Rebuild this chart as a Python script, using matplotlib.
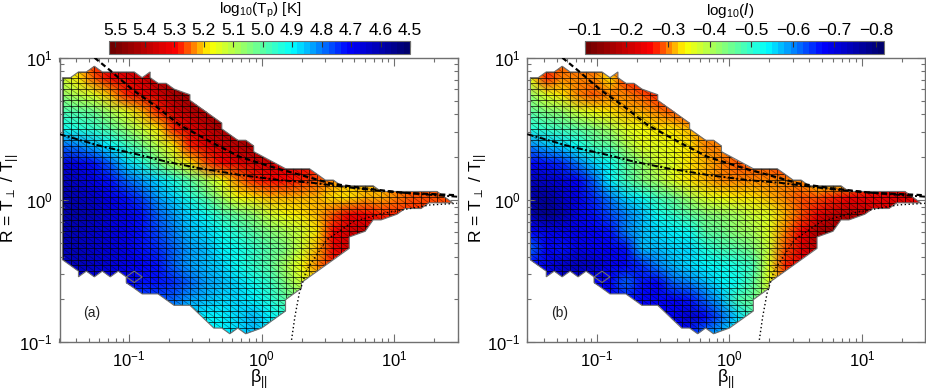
import numpy as np
import matplotlib
matplotlib.use('Agg')
from matplotlib import pyplot as plt
from matplotlib.collections import LineCollection
from matplotlib.colors import LinearSegmentedColormap
from matplotlib.patches import PathPatch
from matplotlib.path import Path
from matplotlib.ticker import LogLocator, NullFormatter

plt.rcParams['font.family'] = ['Liberation Sans', 'DejaVu Sans']
plt.rcParams['mathtext.default'] = 'regular'

# log10 beta / log10 R of the coarse table nodes
log_beta_nodes = [-1.50, -1.38, -1.26, -1.14, -1.02, -0.90, -0.78, -0.66, -0.54, -0.42, -0.30, -0.18, -0.06,
                  0.06, 0.18, 0.30, 0.42, 0.54, 0.66, 0.78, 0.90, 1.02, 1.14, 1.26, 1.38, 1.50]
log_r_nodes = [0.98, 0.86, 0.74, 0.62, 0.50, 0.38, 0.26, 0.14, 0.02, -0.10, -0.22, -0.34, -0.46, -0.58, -0.70,
               -0.82, -0.94]

# panel a: log10(Tp), top row first
log_tp = [
    [5.18, 5.22, 5.28, 5.33, 5.36, 5.40, 5.44, 5.46, 5.48, 5.48, 5.48, 5.48, 5.48, 5.48, 5.48, 5.48, 5.48, 5.48, 5.48, 5.48, 5.48, 5.48, 5.48, 5.48, 5.48, 5.48],
    [5.12, 5.20, 5.26, 5.31, 5.34, 5.37, 5.42, 5.45, 5.47, 5.48, 5.48, 5.48, 5.48, 5.48, 5.48, 5.48, 5.48, 5.48, 5.48, 5.48, 5.48, 5.48, 5.48, 5.48, 5.48, 5.48],
    [5.07, 5.10, 5.15, 5.21, 5.27, 5.32, 5.37, 5.42, 5.45, 5.46, 5.47, 5.48, 5.48, 5.48, 5.48, 5.48, 5.48, 5.48, 5.48, 5.48, 5.48, 5.48, 5.48, 5.48, 5.48, 5.48],
    [4.98, 5.00, 5.03, 5.08, 5.14, 5.21, 5.28, 5.35, 5.40, 5.43, 5.46, 5.47, 5.47, 5.47, 5.47, 5.47, 5.47, 5.47, 5.47, 5.47, 5.47, 5.47, 5.47, 5.47, 5.47, 5.47],
    [4.92, 4.93, 4.96, 5.00, 5.06, 5.13, 5.20, 5.27, 5.33, 5.38, 5.42, 5.45, 5.46, 5.46, 5.45, 5.45, 5.45, 5.45, 5.45, 5.45, 5.45, 5.45, 5.45, 5.45, 5.45, 5.45],
    [4.78, 4.80, 4.85, 4.90, 4.95, 5.02, 5.10, 5.18, 5.27, 5.33, 5.37, 5.40, 5.42, 5.44, 5.40, 5.38, 5.36, 5.36, 5.36, 5.36, 5.36, 5.36, 5.36, 5.36, 5.36, 5.36],
    [4.66, 4.68, 4.72, 4.79, 4.87, 4.94, 5.03, 5.11, 5.18, 5.25, 5.30, 5.33, 5.35, 5.36, 5.34, 5.32, 5.30, 5.28, 5.28, 5.28, 5.28, 5.28, 5.28, 5.28, 5.28, 5.28],
    [4.62, 4.63, 4.67, 4.72, 4.78, 4.82, 4.87, 4.93, 5.00, 5.08, 5.16, 5.24, 5.28, 5.30, 5.30, 5.27, 5.25, 5.24, 5.22, 5.21, 5.22, 5.25, 5.26, 5.26, 5.26, 5.26],
    [4.60, 4.61, 4.64, 4.68, 4.72, 4.77, 4.82, 4.87, 4.93, 5.00, 5.08, 5.16, 5.20, 5.22, 5.22, 5.22, 5.21, 5.20, 5.20, 5.21, 5.22, 5.24, 5.25, 5.26, 5.25, 5.25],
    [4.59, 4.60, 4.62, 4.65, 4.69, 4.73, 4.78, 4.83, 4.87, 4.92, 4.97, 5.02, 5.07, 5.12, 5.16, 5.19, 5.22, 5.26, 5.31, 5.30, 5.28, 5.27, 5.27, 5.27, 5.27, 5.27],
    [4.60, 4.61, 4.63, 4.65, 4.68, 4.72, 4.76, 4.80, 4.84, 4.88, 4.92, 4.96, 5.00, 5.04, 5.08, 5.13, 5.20, 5.30, 5.37, 5.38, 5.36, 5.34, 5.34, 5.34, 5.34, 5.34],
    [4.61, 4.62, 4.64, 4.66, 4.69, 4.72, 4.75, 4.79, 4.83, 4.86, 4.89, 4.92, 4.96, 5.00, 5.05, 5.12, 5.22, 5.32, 5.36, 5.36, 5.36, 5.36, 5.36, 5.36, 5.36, 5.36],
    [4.62, 4.62, 4.63, 4.65, 4.67, 4.70, 4.73, 4.78, 4.82, 4.85, 4.88, 4.92, 4.96, 5.00, 5.08, 5.16, 5.24, 5.28, 5.28, 5.28, 5.28, 5.28, 5.28, 5.28, 5.28, 5.28],
    [4.64, 4.64, 4.65, 4.66, 4.68, 4.72, 4.73, 4.74, 4.79, 4.83, 4.85, 4.88, 4.91, 4.96, 5.04, 5.12, 5.18, 5.18, 5.18, 5.18, 5.18, 5.18, 5.18, 5.18, 5.18, 5.18],
    [4.70, 4.70, 4.72, 4.74, 4.75, 4.76, 4.76, 4.79, 4.82, 4.85, 4.87, 4.88, 4.89, 4.93, 5.00, 5.05, 5.05, 5.05, 5.05, 5.05, 5.05, 5.05, 5.05, 5.05, 5.05, 5.05],
    [4.78, 4.78, 4.78, 4.78, 4.80, 4.82, 4.84, 4.86, 4.88, 4.89, 4.90, 4.88, 4.86, 4.90, 4.94, 4.95, 4.95, 4.95, 4.95, 4.95, 4.95, 4.95, 4.95, 4.95, 4.95, 4.95],
    [4.85, 4.85, 4.85, 4.85, 4.85, 4.86, 4.87, 4.88, 4.89, 4.90, 4.89, 4.87, 4.86, 4.90, 4.92, 4.92, 4.92, 4.92, 4.92, 4.92, 4.92, 4.92, 4.92, 4.92, 4.92, 4.92],
]

# panel b: log10(I), top row first
log_i = [
    [-0.34, -0.28, -0.29, -0.29, -0.29, -0.31, -0.26, -0.25, -0.25, -0.25, -0.25, -0.25, -0.25, -0.25, -0.25, -0.25, -0.25, -0.25, -0.25, -0.25, -0.25, -0.25, -0.25, -0.25, -0.25, -0.25],
    [-0.35, -0.27, -0.30, -0.30, -0.30, -0.33, -0.27, -0.26, -0.26, -0.26, -0.26, -0.26, -0.26, -0.26, -0.26, -0.26, -0.26, -0.26, -0.26, -0.26, -0.26, -0.26, -0.26, -0.26, -0.26, -0.26],
    [-0.42, -0.37, -0.33, -0.30, -0.29, -0.30, -0.31, -0.29, -0.27, -0.26, -0.26, -0.27, -0.27, -0.27, -0.27, -0.27, -0.27, -0.27, -0.27, -0.27, -0.27, -0.27, -0.27, -0.27, -0.27, -0.27],
    [-0.46, -0.44, -0.42, -0.38, -0.35, -0.33, -0.32, -0.32, -0.31, -0.29, -0.27, -0.30, -0.33, -0.36, -0.36, -0.36, -0.36, -0.36, -0.36, -0.36, -0.36, -0.36, -0.36, -0.36, -0.36, -0.36],
    [-0.51, -0.50, -0.49, -0.47, -0.44, -0.41, -0.37, -0.35, -0.34, -0.33, -0.32, -0.30, -0.31, -0.36, -0.38, -0.38, -0.38, -0.38, -0.38, -0.38, -0.38, -0.38, -0.38, -0.38, -0.38, -0.38],
    [-0.60, -0.58, -0.55, -0.52, -0.49, -0.46, -0.41, -0.37, -0.36, -0.35, -0.33, -0.31, -0.30, -0.29, -0.30, -0.26, -0.26, -0.26, -0.26, -0.26, -0.26, -0.26, -0.26, -0.26, -0.26, -0.26],
    [-0.67, -0.66, -0.64, -0.60, -0.56, -0.52, -0.47, -0.42, -0.38, -0.36, -0.34, -0.32, -0.30, -0.29, -0.29, -0.28, -0.26, -0.28, -0.34, -0.40, -0.40, -0.40, -0.40, -0.40, -0.40, -0.40],
    [-0.74, -0.72, -0.71, -0.67, -0.61, -0.54, -0.49, -0.44, -0.40, -0.37, -0.34, -0.32, -0.31, -0.30, -0.30, -0.30, -0.30, -0.31, -0.33, -0.36, -0.34, -0.28, -0.27, -0.27, -0.27, -0.27],
    [-0.75, -0.76, -0.72, -0.70, -0.64, -0.60, -0.56, -0.53, -0.49, -0.45, -0.41, -0.37, -0.35, -0.34, -0.33, -0.32, -0.31, -0.29, -0.28, -0.27, -0.25, -0.24, -0.24, -0.23, -0.24, -0.24],
    [-0.75, -0.78, -0.75, -0.70, -0.66, -0.63, -0.60, -0.57, -0.53, -0.50, -0.47, -0.44, -0.42, -0.40, -0.38, -0.36, -0.32, -0.29, -0.24, -0.19, -0.18, -0.20, -0.22, -0.22, -0.22, -0.22],
    [-0.68, -0.70, -0.70, -0.70, -0.67, -0.66, -0.60, -0.58, -0.56, -0.54, -0.52, -0.47, -0.45, -0.43, -0.41, -0.37, -0.30, -0.26, -0.17, -0.15, -0.15, -0.15, -0.15, -0.15, -0.15, -0.15],
    [-0.62, -0.68, -0.66, -0.70, -0.67, -0.68, -0.66, -0.58, -0.58, -0.56, -0.55, -0.51, -0.49, -0.47, -0.44, -0.38, -0.28, -0.23, -0.18, -0.18, -0.18, -0.18, -0.18, -0.18, -0.18, -0.18],
    [-0.68, -0.70, -0.72, -0.74, -0.72, -0.70, -0.68, -0.64, -0.60, -0.58, -0.56, -0.54, -0.53, -0.51, -0.49, -0.36, -0.27, -0.24, -0.24, -0.24, -0.24, -0.24, -0.24, -0.24, -0.24, -0.24],
    [-0.68, -0.70, -0.72, -0.72, -0.68, -0.68, -0.62, -0.66, -0.68, -0.62, -0.60, -0.57, -0.54, -0.52, -0.47, -0.36, -0.30, -0.30, -0.30, -0.30, -0.30, -0.30, -0.30, -0.30, -0.30, -0.30],
    [-0.70, -0.70, -0.70, -0.70, -0.68, -0.68, -0.66, -0.68, -0.68, -0.68, -0.66, -0.62, -0.57, -0.48, -0.45, -0.40, -0.38, -0.38, -0.38, -0.38, -0.38, -0.38, -0.38, -0.38, -0.38, -0.38],
    [-0.70, -0.70, -0.70, -0.70, -0.70, -0.70, -0.70, -0.70, -0.68, -0.67, -0.72, -0.68, -0.62, -0.55, -0.48, -0.46, -0.46, -0.46, -0.46, -0.46, -0.46, -0.46, -0.46, -0.46, -0.46, -0.46],
    [-0.70, -0.70, -0.70, -0.70, -0.70, -0.70, -0.70, -0.70, -0.70, -0.68, -0.66, -0.60, -0.57, -0.52, -0.50, -0.50, -0.50, -0.50, -0.50, -0.50, -0.50, -0.50, -0.50, -0.50, -0.50, -0.50],
]

# outline of the populated bins, as column / row numbers of the 0.06 x 0.04 dex mesh
outline_col = [0, 1, 2, 3, 4, 5, 9, 10, 11, 11, 12, 13, 14, 16, 16, 20, 20, 22, 23, 24, 24, 28, 31, 32, 33, 34, 35,
               39, 40, 45, 47, 49, 46, 45, 43, 42, 40, 39, 38, 36, 36, 32, 30, 30, 28, 28, 25, 23, 22, 21, 20, 19,
               16, 14, 12, 10, 9, 8, 8, 7, 6, 5, 4, 3, 2, 2, 0]
outline_row = [45, 45, 46, 46, 47, 46, 46, 45, 46, 45, 44, 44, 43, 42, 41, 37, 36, 34, 34, 33, 32, 29, 29, 28, 27, 27,
               26, 26, 25, 25, 25, 23, 23, 22, 22, 21, 20, 20, 18, 17, 15, 11, 9, 8, 6, 4, 1, 0, 1, 0, 1, 1,
               5, 5, 7, 7, 8, 9, 10, 11, 10, 11, 10, 11, 10, 11, 13]
hole_col = [8, 9, 10, 9]
hole_row = [10, 11, 10, 9]

# threshold curves
upper_beta = [0.0551, 0.0715, 0.107, 0.161, 0.242, 0.457, 0.684, 1.29, 2.18, 3.27, 5.83, 11.6, 29.7]
upper_r = [10.0, 8.2, 5.93, 4.53, 3.36, 2.44, 2.01, 1.67, 1.46, 1.31, 1.21, 1.125, 1.08]
lower_beta = [0.03, 0.0637, 0.107, 0.191, 0.342, 0.684, 1.37, 2.43, 4.38, 7.8, 13.8, 29.7]
lower_r = [2.9, 2.37, 2.13, 1.86, 1.67, 1.50, 1.38, 1.32, 1.23, 1.16, 1.11, 1.055]
dotted_beta = [1.68, 1.78, 1.92, 2.18, 3.09, 4.91, 8.26, 18.6, 29.7]
dotted_r = [0.104, 0.151, 0.221, 0.322, 0.524, 0.705, 0.807, 0.923, 0.948]

tp_ticks = [5.5, 5.4, 5.3, 5.2, 5.1, 5.0, 4.9, 4.8, 4.7, 4.6, 4.5]
i_ticks = [-0.1, -0.2, -0.3, -0.4, -0.5, -0.6, -0.7, -0.8]

cmap = LinearSegmentedColormap.from_list('jet_like', [
    (0.0, '#00006e'), (0.2, '#0000ff'), (0.39, '#00ffff'), (0.53, '#7fff7f'),
    (0.67, '#ffff00'), (0.78, '#ff0000'), (1.0, '#700000')], N=48)

W, H = 926, 391
GREY = '#707070'


def col_x(c):
    return 10 ** (-1.5 + 0.06 * np.asarray(c, dtype=float))


def row_y(r):
    return 10 ** (-0.94 + 0.04 * np.asarray(r, dtype=float))


def draw_panel(x0, values, vmin, vmax, letter, ylabel_x):
    ax = fig.add_axes([x0 / W, (H - 342.3) / H, 398.2 / W, 284.6 / H])
    ax.set_xscale('log')
    ax.set_yscale('log')

    verts = list(zip(col_x(outline_col), row_y(outline_row))) + [(0, 0)]
    codes = [Path.MOVETO] + [Path.LINETO] * (len(outline_col) - 1) + [Path.CLOSEPOLY]
    verts += list(zip(col_x(hole_col), row_y(hole_row))) + [(0, 0)]
    codes += [Path.MOVETO] + [Path.LINETO] * (len(hole_col) - 1) + [Path.CLOSEPOLY]
    shape = PathPatch(Path(verts, codes), transform=ax.transData, fc='none', ec=GREY, lw=0.8, zorder=3)
    ax.add_patch(shape)

    xg, yg = np.meshgrid(10 ** np.array(log_beta_nodes), 10 ** np.array(log_r_nodes))
    mesh = ax.pcolormesh(xg, yg, np.array(values), cmap=cmap, vmin=vmin, vmax=vmax, shading='gouraud')
    mesh.set_clip_path(shape)

    # triangle mesh: dark bin edges, fainter diagonals
    cols = np.arange(0, 51)
    rows = np.arange(0, 49)
    straight = [[(col_x(c), row_y(0)), (col_x(c), row_y(48))] for c in cols]
    straight += [[(col_x(0), row_y(r)), (col_x(50), row_y(r))] for r in rows]
    diag = []
    for c in cols[:-1]:
        for r in rows[:-1]:
            diag.append([(col_x(c), row_y(r + 1)), (col_x(c + 1), row_y(r))])
    lines = LineCollection(straight, colors='k', linewidths=0.6, alpha=0.8, zorder=2)
    ax.add_collection(lines, autolim=False)
    lines.set_clip_path(shape)
    faint = LineCollection(diag, colors='k', linewidths=0.5, alpha=0.45, zorder=2)
    ax.add_collection(faint, autolim=False)
    faint.set_clip_path(shape)

    ax.plot(upper_beta, upper_r, color='k', lw=1.6, ls=(0, (2.4, 1.5)), zorder=4)
    ax.plot(lower_beta, lower_r, color='k', lw=1.4, ls=(0, (3.2, 1.2, 1, 1.2)), zorder=4)
    ax.plot(dotted_beta, dotted_r, color='k', lw=1.0, ls=(0, (1, 1.8)), zorder=4)

    ax.set_xlim(0.03, 30)
    ax.set_ylim(0.1, 10)
    ax.xaxis.set_major_locator(LogLocator(base=10))
    ax.xaxis.set_minor_locator(LogLocator(base=10, subs=range(2, 10), numticks=20))
    ax.yaxis.set_minor_locator(LogLocator(base=10, subs=range(2, 10), numticks=20))
    ax.xaxis.set_minor_formatter(NullFormatter())
    ax.yaxis.set_minor_formatter(NullFormatter())
    ax.tick_params(which='major', direction='in', top=True, right=True, length=6, width=0.8, color=GREY,
                   labelsize=12, pad=5)
    ax.tick_params(which='minor', direction='in', top=True, right=True, length=3, width=0.8, color=GREY)
    for s in ax.spines.values():
        s.set_color(GREY)
        s.set_linewidth(1.0)

    ax.set_xlabel('β$_{||}$', fontsize=13, labelpad=-1)
    fig.text(ylabel_x / W, 1 - 198 / H, 'R = T$_{\\perp}$ / T$_{||}$', rotation=90, fontsize=12.5,
             ha='center', va='center')
    ax.text(0.081, 0.103, '(%s)' % letter, fontsize=10, color='#222222',
            ha='center', va='center', transform=ax.transAxes)
    return mesh


def draw_colorbar(mesh, left, right, ticks, title, title_x):
    cax = fig.add_axes([left / W, (H - 54.3) / H, (right - left) / W, 13.6 / H])
    cb = fig.colorbar(mesh, cax=cax, orientation='horizontal')
    cax.invert_xaxis()
    cb.set_ticks(ticks)
    cb.set_ticklabels([('%.1f' % t).replace('-', '\u2212') for t in ticks])
    cb.minorticks_off()
    cax.xaxis.set_ticks_position('top')
    cax.tick_params(direction='in', length=4, width=0.8, color='#333333', labelsize=12.5, pad=2)
    cb.outline.set_edgecolor(GREY)
    cb.outline.set_linewidth(0.8)
    fig.text(title_x / W, 1 - 10.5 / H, title, fontsize=11, ha='center', va='center')


fig = plt.figure(figsize=(W / 100, H / 100), dpi=100)

mesh_a = draw_panel(59.5, log_tp, 4.5, 5.52, 'a', 11)
mesh_b = draw_panel(527.3, log_i, -0.82, -0.1, 'b', 479)

draw_colorbar(mesh_a, 109.3, 410, tp_ticks, 'log$_{10}$(T$_p$) [K]', 260)
draw_colorbar(mesh_b, 584.8, 884.3, i_ticks, 'log$_{10}$($\\mathit{I}$)', 730)

fig.savefig('out.png', dpi=100)
